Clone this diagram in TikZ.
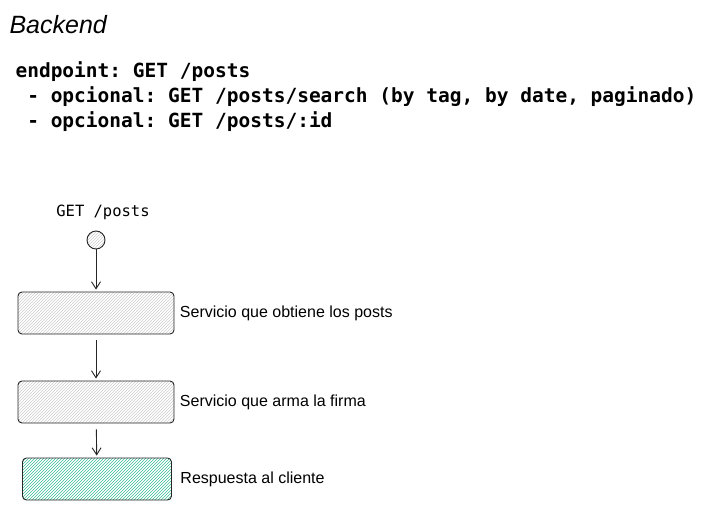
\documentclass[tikz,border=0pt]{standalone}
\usepackage{fontspec}
\setmainfont{Liberation Sans}
\setmonofont{DejaVu Sans Mono}
\usetikzlibrary{positioning, patterns, arrows.meta}
\definecolor{hatchgray}{RGB}{205,205,205}
\definecolor{hatchgreen}{RGB}{60,190,150}
\tikzset{
  stage/.style={draw=black!85, line width=0.9pt, rounded corners=4pt,
    minimum width=156pt, minimum height=42pt},
  info/.style={font=\fontsize{16}{19}\selectfont, anchor=west},
  flow/.style={-{Straight Barb[length=7pt,width=9pt]}, line width=0.9pt, draw=black!85},
  code/.style={anchor=west, font=\ttfamily\bfseries\fontsize{19.5}{22}\selectfont}
}
\begin{document}
\begin{tikzpicture}[x=1pt,y=-1pt]
\useasboundingbox (0,0) rectangle (706,511);

% Header texts
	\node (title)	[anchor=west, font=\fontsize{25}{28}\selectfont\itshape] at (6,25) {Backend};
	\node (ep)		[code] at (12,72) {endpoint: GET /posts};
	\node (opt1)	[code] at (12,97) {~- opcional: GET /posts/search (by tag, by date, paginado)};
	\node (opt2)	[code] at (12,122) {~- opcional: GET /posts/:id};

% Flow nodes
	\node (req)		[font=\ttfamily\fontsize{15.5}{18}\selectfont] at (103,212) {GET /posts};
	\node (start)	[circle, draw=black!85, line width=0.9pt, minimum size=18pt, inner sep=0pt,
		pattern=north east lines, pattern color=hatchgray] at (96,240) {};
	\node (svc_posts)	[stage, pattern=north east lines, pattern color=hatchgray] at (96,313) {};
	\node (svc_sign)	[stage, pattern=north east lines, pattern color=hatchgray] at (96,402) {};
	\node (resp)		[stage, minimum width=149pt, pattern=north east lines, pattern color=hatchgreen] at (97,479) {};

% Labels
	\node (l_posts)	[info, right=2pt of svc_posts]	{Servicio que obtiene los posts};
	\node (l_sign)	[info, right=2pt of svc_sign]	{Servicio que arma la firma};
	\node (l_resp)	[info, right=5pt of resp]		{Respuesta al cliente};

% Arrows
	\path[flow]
		(start)		edge[shorten >=2pt] (svc_posts)
		(svc_posts)	edge[shorten <=6pt, shorten >=2pt] (svc_sign)
		(svc_sign)	edge[shorten <=6pt, shorten >=2pt] (resp)
	;

\end{tikzpicture}
\end{document}
